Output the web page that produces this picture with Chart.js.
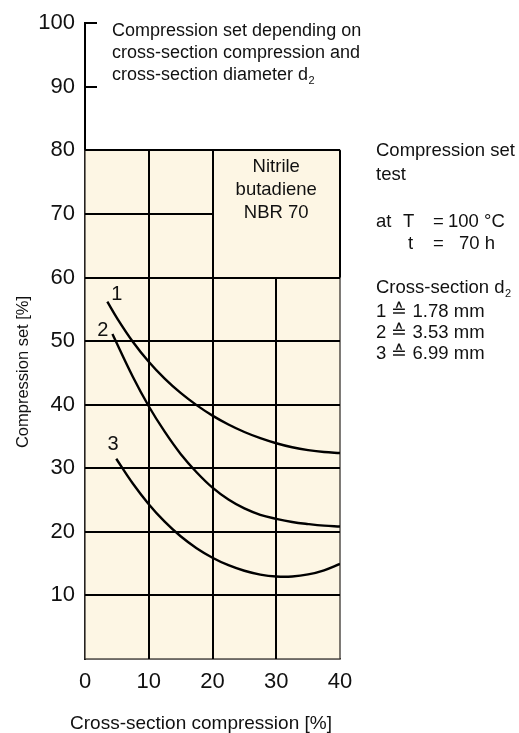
<!DOCTYPE html>
<html><head><meta charset="utf-8">
<script src="https://cdn.jsdelivr.net/npm/chart.js@4"></script>
<style>html,body{margin:0;padding:0;background:#fff}#c{display:block}</style>
</head><body>
<canvas id="c" width="519" height="733"></canvas>
<script>
// ---- data ----
const xTickValues = [0, 10, 20, 30, 40];
const yTickValues = [10, 20, 30, 40, 50, 60, 70, 80, 90, 100];
const curve1X = [3.5, 5, 7.5, 10, 12.5, 15, 17.5, 20, 22.5, 25, 27.5, 30, 32.5, 35, 37.5, 40];
const curve1Y = [56.2, 53.65, 49.9, 46.75, 44.1, 41.85, 39.93, 38.28, 36.88, 35.7, 34.73, 33.93, 33.3, 32.85, 32.55, 32.4];
const curve2X = [4.3, 7.5, 10, 12.5, 15, 17.5, 20, 22.5, 25, 27.5, 30, 32.5, 35, 37.5, 40];
const curve2Y = [51.1, 44.38, 39.75, 35.75, 32.25, 29.38, 26.95, 25.08, 23.68, 22.68, 22.05, 21.55, 21.22, 20.97, 20.85];
const curve3X = [4.9, 7.5, 10, 12.5, 15, 17.5, 20, 22.5, 25, 27.5, 30, 32.5, 35, 37.5, 40];
const curve3Y = [31.5, 27.6, 24.35, 21.6, 19.3, 17.43, 15.93, 14.75, 13.88, 13.28, 12.98, 12.98, 13.3, 13.95, 14.95];
const curveNames = ['1', '2', '3'];

// grid segments in data units: [value, from, to]
const hGrid = [[10,0,40],[20,0,40],[30,0,40],[40,0,40],[50,0,40],[60,0,40],[70,0,20],[80,0,40]];
const vGrid = [[10,0,80],[20,0,80],[30,0,60],[40,60,80]];
const axisMarks = [90, 100];
const curveLabelPos = [[5.0,57.4],[2.8,51.7],[4.4,33.7]];

const FONT = "'Liberation Sans', Arial, Helvetica, sans-serif";
const TXT = '18.5px ' + FONT;
const toPts = (xs, ys) => xs.map((x, i) => ({x, y: ys[i]}));

const gridPlugin = {
  id: 'gridPlugin',
  beforeDatasetsDraw(chart) {
    const {ctx, scales: {x, y}} = chart;
    ctx.save();
    ctx.fillStyle = '#fdf6e4';
    const x0 = x.getPixelForValue(0), x1 = x.getPixelForValue(40);
    const y0 = y.getPixelForValue(0), y1 = y.getPixelForValue(80);
    ctx.fillRect(x0, y1, x1 - x0, y0 - y1);
    ctx.strokeStyle = '#3a3530';
    ctx.lineWidth = 1.3;
    ctx.strokeRect(x0, y1, x1 - x0, y0 - y1);
    ctx.strokeStyle = '#000';
    ctx.lineWidth = 2;
    ctx.lineCap = 'butt';
    hGrid.forEach(([v, a, b]) => {
      const py = Math.round(y.getPixelForValue(v));
      ctx.beginPath();
      ctx.moveTo(x.getPixelForValue(a), py);
      ctx.lineTo(x.getPixelForValue(b), py);
      ctx.stroke();
    });
    vGrid.forEach(([v, a, b]) => {
      const px = Math.round(x.getPixelForValue(v));
      ctx.beginPath();
      ctx.moveTo(px, y.getPixelForValue(a));
      ctx.lineTo(px, y.getPixelForValue(b));
      ctx.stroke();
    });
    axisMarks.forEach(v => {
      const py = Math.round(y.getPixelForValue(v));
      ctx.beginPath();
      ctx.moveTo(x0, py);
      ctx.lineTo(x0 + 12, py);
      ctx.stroke();
    });
    ctx.restore();
  },
  afterDraw(chart) {
    const {ctx, scales: {x, y}} = chart;
    ctx.save();
    ctx.fillStyle = '#111';
    ctx.textBaseline = 'middle';
    ctx.font = '20px ' + FONT;
    ctx.textAlign = 'center';
    curveLabelPos.forEach(([vx, vy], i) => {
      ctx.fillText(curveNames[i], x.getPixelForValue(vx), y.getPixelForValue(vy));
    });
    ctx.font = TXT;
    const cx = (x.getPixelForValue(20) + x.getPixelForValue(40)) / 2;
    ['Nitrile', 'butadiene', 'NBR 70'].forEach((t, i) => ctx.fillText(t, cx, 167 + i * 23));
    ctx.font = '19px ' + FONT;
    ctx.fillText('Cross-section compression [%]', 201, 724);
    ctx.save();
    ctx.translate(23, 372);
    ctx.rotate(-Math.PI / 2);
    ctx.font = '16.5px ' + FONT;
    ctx.fillText('Compression set [%]', 0, 0);
    ctx.restore();
    ctx.textAlign = 'left';
    ctx.font = '18px ' + FONT;
    const tx = 112;
    ctx.fillText('Compression set depending on', tx, 31);
    ctx.fillText('cross-section compression and', tx, 53);
    const l3 = 'cross-section diameter d';
    ctx.fillText(l3, tx, 75);
    const w3 = ctx.measureText(l3).width;
    ctx.font = '11px ' + FONT;
    ctx.fillText('2', tx + w3 + 0.5, 81);
    ctx.font = TXT;
    const rx = 376;
    ctx.fillText('Compression set', rx, 151);
    ctx.fillText('test', rx, 175);
    ctx.fillText('at', rx, 222);
    ctx.fillText('T', rx + 27, 222);
    ctx.fillText('=', rx + 57, 222);
    ctx.fillText('100 °C', rx + 72, 222);
    ctx.fillText('t', rx + 32, 244);
    ctx.fillText('=', rx + 57, 244);
    ctx.fillText('70 h', rx + 83, 244);
    const cs = 'Cross-section d';
    ctx.fillText(cs, rx, 288);
    const wcs = ctx.measureText(cs).width;
    ctx.font = '11px ' + FONT;
    ctx.fillText('2', rx + wcs + 0.5, 294);
    ctx.font = TXT;
    ['1 ≙ 1.78 mm', '2 ≙ 3.53 mm', '3 ≙ 6.99 mm'].forEach((t, i) => ctx.fillText(t, rx, 312 + i * 21));
    ctx.restore();
  }
};

const lineStyle = {
  borderColor: '#000', borderWidth: 2.4, pointRadius: 0, fill: false, tension: 0.4
};

new Chart(document.getElementById('c'), {
  type: 'line',
  data: {
    datasets: [
      {label: curveNames[0], data: toPts(curve1X, curve1Y), ...lineStyle},
      {label: curveNames[1], data: toPts(curve2X, curve2Y), ...lineStyle},
      {label: curveNames[2], data: toPts(curve3X, curve3Y), ...lineStyle}
    ]
  },
  options: {
    responsive: false,
    animation: false,
    devicePixelRatio: 1,
    layout: {padding: {left: 0, right: 179, top: 19, bottom: 0}},
    plugins: {legend: {display: false}, tooltip: {enabled: false}},
    scales: {
      x: {
        type: 'linear', min: 0, max: 40,
        afterBuildTicks: s => { s.ticks = xTickValues.map(v => ({value: v})); },
        afterFit: s => { s.height = 74; },
        grid: {display: false, drawTicks: false},
        border: {display: true, color: '#3a3530', width: 1.3},
        ticks: {color: '#111', font: {family: FONT, size: 22}, padding: 10, maxRotation: 0}
      },
      y: {
        type: 'linear', min: 0, max: 100,
        afterBuildTicks: s => { s.ticks = yTickValues.map(v => ({value: v})); },
        afterFit: s => { s.width = 85; },
        grid: {display: false, drawTicks: false},
        border: {display: true, color: '#000', width: 2},
        ticks: {color: '#111', font: {family: FONT, size: 22}, padding: 10}
      }
    }
  },
  plugins: [gridPlugin]
});
</script>
</body></html>
